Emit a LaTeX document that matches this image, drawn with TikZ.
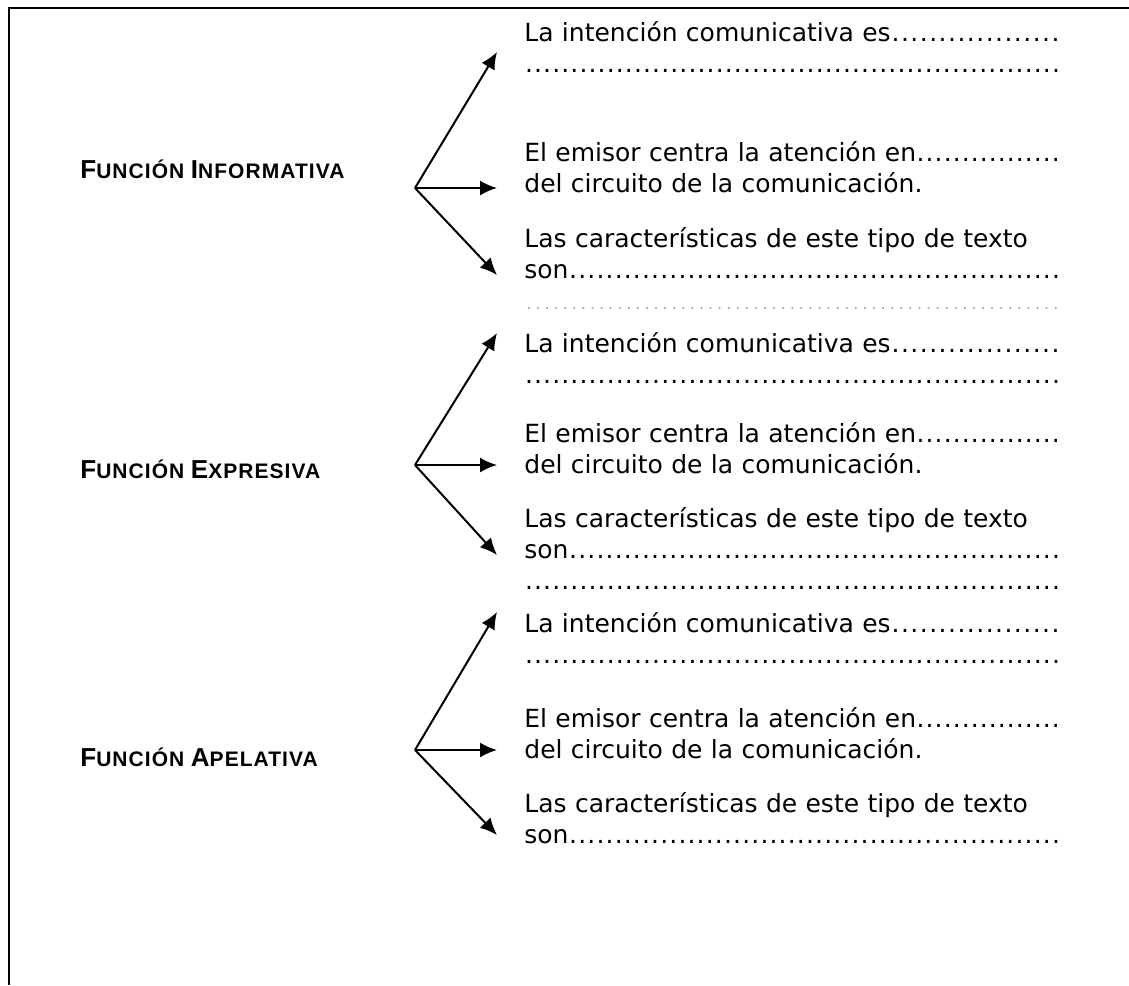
\documentclass[tikz,border=0pt]{standalone}
\usepackage{fontspec}
\setmainfont{DejaVu Sans}
\newfontfamily\headfont[LetterSpace=5]{Liberation Sans}
\usetikzlibrary{arrows.meta}

\newcommand{\fsc}[2]{{\fontsize{13}{15}\selectfont #1}{\fontsize{10.5}{12}\selectfont #2}}
\newcommand{\dotrow}{\leavevmode\xleaders\hbox to 4.5pt{\hss.\hss}\hskip 0pt plus 1fill\null}
\newcommand{\graydots}{\leavevmode\xleaders\hbox to 4.5pt{\hss\textcolor{gray!70}{\footnotesize.}\hss}\hskip 0pt plus 1fill\null}

\tikzstyle{heading} = [anchor=base west, inner sep=0pt, font=\headfont\bfseries]
\tikzstyle{item} = [anchor=base west, inner sep=0pt, text width=268pt,
    align=left, font=\fontsize{12.5}{15.5}\selectfont]
\tikzstyle{line} = [draw, line width=1pt, -{Latex[length=8.5pt,width=7.5pt]}]

\begin{document}
\begin{tikzpicture}[x=0.5pt, y=-0.5pt]

    \useasboundingbox (0,0) rectangle (1129,985);
    \draw [line width=1pt] (9,985) -- (9,8) -- (1129,8);

    \node [heading] (infoHead) at (80,178) {\fsc{F}{UNCIÓN} \fsc{I}{NFORMATIVA}};
    \coordinate (infoHub) at (415,188);
    \node [item] (infoIntent) at (524,41) {La intención comunicativa es\dotrow\\\dotrow};
    \node [item] (infoFocus) at (524,161) {El emisor centra la atención en\dotrow\\del circuito de la comunicación.};
    \node [item] (infoTraits) at (524,247) {Las características de este tipo de texto\\son\dotrow\\\graydots};

    \path [line] (infoHub) -- ([shift={(-27,11)}]infoIntent.base west);
    \path [line] (infoHub) -- ([shift={(-27,27)}]infoFocus.base west);
    \path [line] (infoHub) -- ([shift={(-27,28)}]infoTraits.base west);

    \node [heading] (exprHead) at (80,478) {\fsc{F}{UNCIÓN} \fsc{E}{XPRESIVA}};
    \coordinate (exprHub) at (415,465);
    \node [item] (exprIntent) at (524,352) {La intención comunicativa es\dotrow\\\dotrow};
    \node [item] (exprFocus) at (524,442) {El emisor centra la atención en\dotrow\\del circuito de la comunicación.};
    \node [item] (exprTraits) at (524,527) {Las características de este tipo de texto\\son\dotrow\\\dotrow};

    \path [line] (exprHub) -- ([shift={(-27,-19)}]exprIntent.base west);
    \path [line] (exprHub) -- ([shift={(-27,23)}]exprFocus.base west);
    \path [line] (exprHub) -- ([shift={(-27,28)}]exprTraits.base west);

    \node [heading] (apelHead) at (80,766) {\fsc{F}{UNCIÓN} \fsc{A}{PELATIVA}};
    \coordinate (apelHub) at (415,750);
    \node [item] (apelIntent) at (524,632) {La intención comunicativa es\dotrow\\\dotrow};
    \node [item] (apelFocus) at (524,727) {El emisor centra la atención en\dotrow\\del circuito de la comunicación.};
    \node [item] (apelTraits) at (524,812) {Las características de este tipo de texto\\son\dotrow};

    \path [line] (apelHub) -- ([shift={(-27,-20)}]apelIntent.base west);
    \path [line] (apelHub) -- ([shift={(-27,23)}]apelFocus.base west);
    \path [line] (apelHub) -- ([shift={(-27,23)}]apelTraits.base west);

\end{tikzpicture}
\end{document}
